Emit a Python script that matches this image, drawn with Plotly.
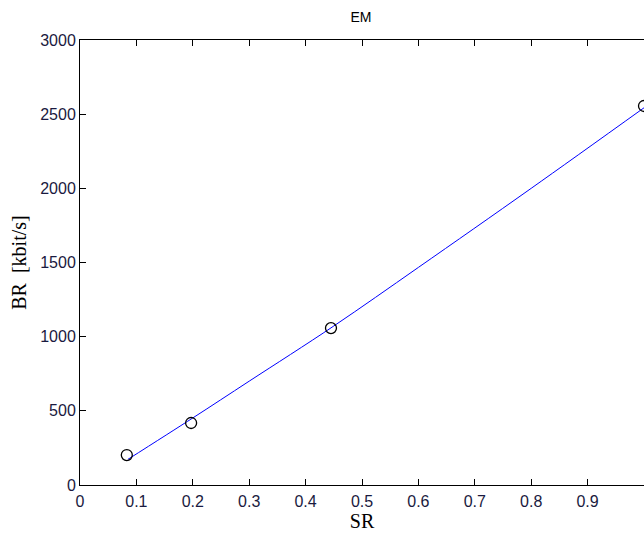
import plotly.graph_objects as go

# measured points (markers)
sr_points = [0.083, 0.197, 0.445, 1.0]
br_points = [202, 418, 1058, 2555]

# fitted curve (blue line)
sr_fit = [0.085, 0.2, 0.3, 0.45, 0.6, 0.8, 1.0]
br_fit = [173, 452, 700, 1072, 1467, 2000, 2543]

x_ticks = [0, 0.1, 0.2, 0.3, 0.4, 0.5, 0.6, 0.7, 0.8, 0.9, 1.0]
x_labels = ["0", "0.1", "0.2", "0.3", "0.4", "0.5", "0.6", "0.7", "0.8", "0.9",
            '<span style="color:#d05010">1</span>']
y_ticks = [0, 500, 1000, 1500, 2000, 2500, 3000]

fig = go.Figure()
fig.add_trace(go.Scatter(x=sr_fit, y=br_fit, mode="lines", line=dict(color="#0000ff", width=1, shape="spline"),
                         showlegend=False, cliponaxis=False))
fig.add_trace(go.Scatter(x=sr_points, y=br_points, mode="markers",
                         marker=dict(symbol="circle-open", size=11, color="black", line=dict(width=1.3, color="black")),
                         showlegend=False, cliponaxis=False))

axis_common = dict(showline=True, linecolor="black", linewidth=1, ticks="inside",
                   ticklen=6, tickcolor="black", showgrid=False, zeroline=False,
                   tickfont=dict(family="Liberation Sans, Arial", size=16, color="#1a1a40"))

fig.update_layout(
    width=644, height=535,
    margin=dict(l=80, r=0, t=40, b=50),
    paper_bgcolor="white", plot_bgcolor="white",
    title=dict(text="EM", x=361 / 644, xanchor="center", y=1 - 17 / 535, yanchor="middle",
               font=dict(family="Liberation Sans, Arial", size=14, color="black")),
    xaxis=dict(range=[0, 1], tickvals=x_ticks, ticktext=x_labels, ticklabelstandoff=2, mirror="ticks",
               title=dict(text="SR", font=dict(family="Liberation Serif, Times New Roman", size=20, color="black"),
                          standoff=4),
               **axis_common),
    yaxis=dict(range=[0, 3000], tickvals=y_ticks, ticklabelstandoff=0, mirror=False,
               title=dict(text="BR  [kbit/s]", font=dict(family="Liberation Serif, Times New Roman", size=20, color="black"),
                          standoff=8),
               **axis_common),
)

fig.write_html("out.html", config={"displayModeBar": False},
               post_script="document.body.style.margin='0';document.body.style.overflow='hidden';")
